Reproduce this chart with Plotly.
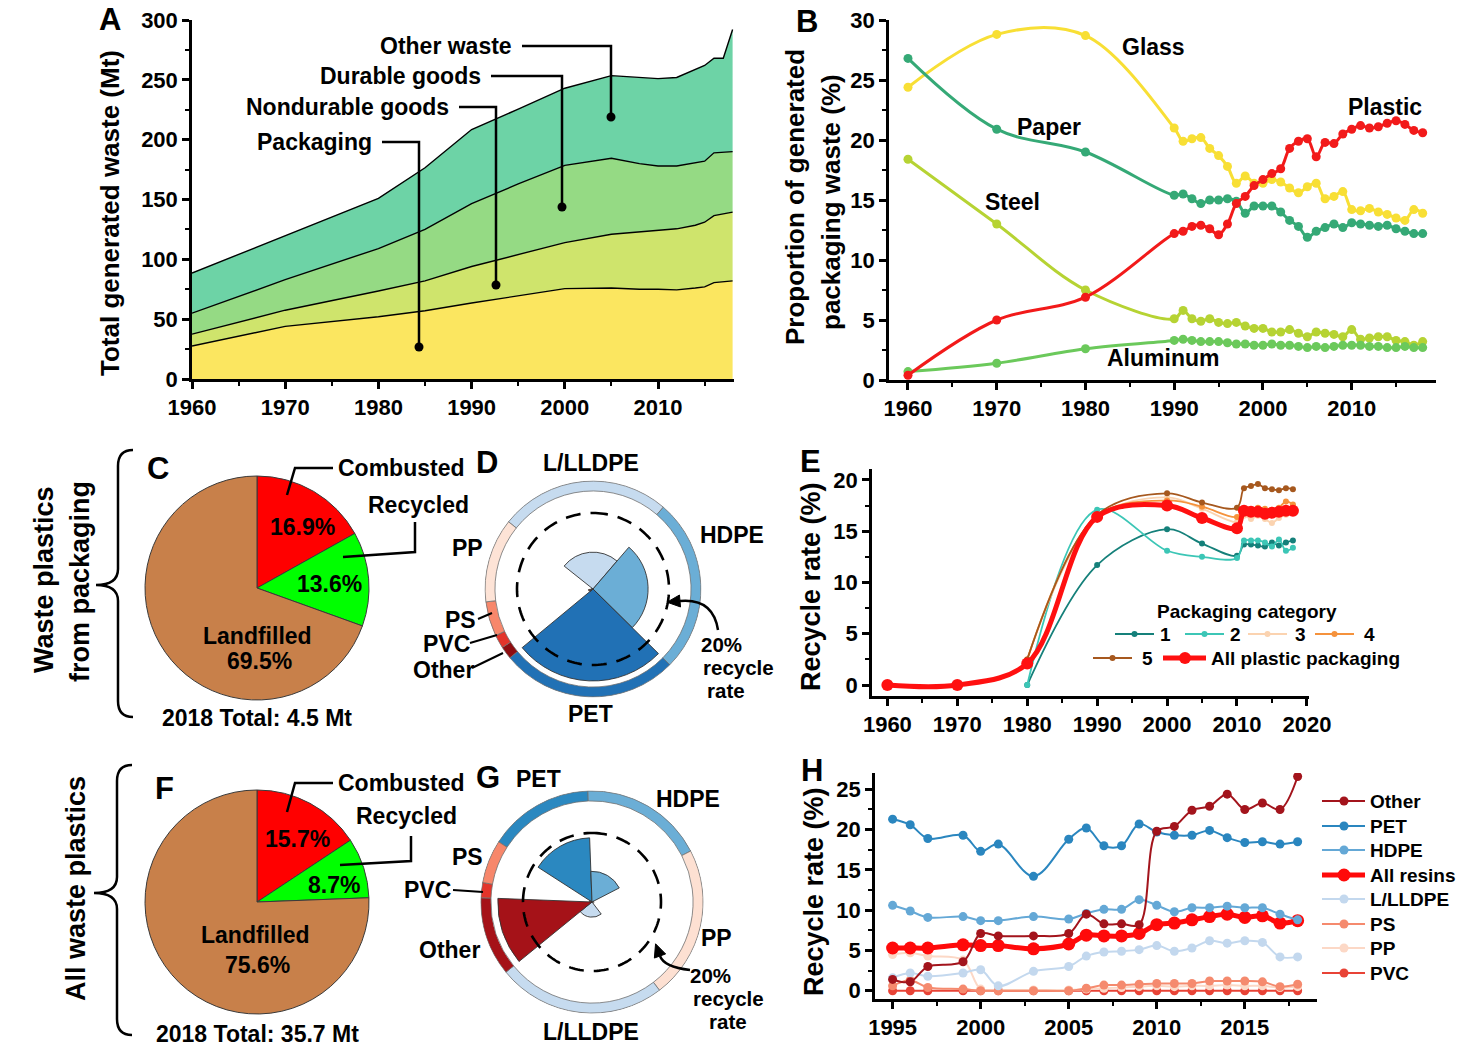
import math
import numpy as np
import plotly.graph_objects as go

W, H = 1466, 1048
FONT = "Liberation Sans, Arial, Helvetica, sans-serif"
LBL = 23   # label font size
TCK = 22   # tick font size

# ======================= DATA =======================
# Panel A - total generated waste (Mt), stacked layers
years_A = [1960, 1970, 1980, 1985, 1990, 1995, 2000, 2005, 2008, 2010, 2012, 2014, 2015, 2016, 2017, 2018]
packaging_A = [27.5, 44.0, 52.0, 57.0, 63.5, 69.5, 75.5, 76.0, 75.0, 75.0, 74.5, 76.0, 77.0, 80.5, 81.0, 82.0]
nondurable_A = [10.0, 13.5, 21.5, 25.0, 30.5, 34.5, 38.5, 45.0, 48.0, 49.5, 51.0, 52.5, 54.0, 56.0, 57.0, 57.5]
durable_A = [17.5, 25.5, 35.5, 43.0, 52.5, 59.0, 64.5, 63.5, 57.0, 53.5, 52.5, 52.0, 51.0, 52.5, 51.5, 50.5]
other_A = [33.5, 37.0, 42.0, 51.5, 62.0, 62.5, 64.5, 69.0, 72.0, 73.0, 74.0, 78.5, 80.0, 79.0, 78.5, 102.0]

# Panel B - proportion of generated packaging waste (%)
years_B = [1960, 1970, 1980, 1990, 1991, 1992, 1993, 1994, 1995, 1996, 1997, 1998, 1999, 2000, 2001,
           2002, 2003, 2004, 2005, 2006, 2007, 2008, 2009, 2010, 2011, 2012, 2013, 2014, 2015, 2016, 2017, 2018]
glass_B = [24.4, 28.8, 28.7, 21.0, 19.9, 20.1, 20.2, 19.3, 18.7, 17.8, 16.4, 17.0, 16.4, 16.4, 16.7,
           16.5, 16.0, 15.6, 16.1, 16.4, 15.1, 15.3, 15.7, 14.2, 14.1, 14.3, 14.0, 13.8, 13.5, 13.3, 14.2, 13.9]
paper_B = [26.8, 20.9, 19.0, 15.4, 15.5, 15.1, 14.7, 15.0, 15.0, 15.1, 14.9, 13.9, 14.5, 14.5, 14.5,
           14.0, 13.3, 12.8, 11.9, 12.4, 12.7, 13.0, 12.7, 13.1, 13.0, 12.9, 12.8, 12.9, 12.6, 12.4, 12.2, 12.2]
steel_B = [18.4, 13.0, 7.5, 5.1, 5.8, 5.1, 4.9, 5.1, 4.8, 4.7, 4.8, 4.5, 4.3, 4.3, 4.0,
           4.0, 4.2, 3.9, 3.6, 4.0, 3.9, 3.8, 3.6, 4.2, 3.4, 3.5, 3.6, 3.6, 3.3, 3.2, 2.9, 3.2]
aluminum_B = [0.7, 1.4, 2.6, 3.3, 3.4, 3.3, 3.2, 3.2, 3.2, 3.1, 3.0, 3.0, 2.9, 2.9, 3.0,
              2.9, 2.9, 2.8, 2.7, 2.8, 2.7, 2.8, 2.9, 2.9, 2.9, 2.8, 2.8, 2.7, 2.7, 2.8, 2.7, 2.7]
plastic_B = [0.4, 5.0, 6.9, 12.2, 12.4, 12.8, 12.9, 12.6, 12.1, 13.0, 14.7, 15.3, 16.2, 16.7, 17.2,
             17.6, 19.3, 19.9, 20.1, 18.6, 19.8, 19.7, 20.5, 20.9, 21.2, 21.0, 21.1, 21.4, 21.6, 21.3, 20.8, 20.6]

# Panels C / F - fate of waste plastics in 2018 (%)
fate_labels = ["Combusted", "Recycled", "Landfilled"]
fate_C = [16.9, 13.6, 69.5]
fate_F = [15.7, 8.7, 75.6]

# Panel D - packaging resins: share of generated waste (%) and recycle rate (%)
resins_D = ["L/LLDPE", "HDPE", "PET", "Other", "PVC", "PS", "PP"]
share_D = [25.6, 26.1, 26.6, 1.9, 2.0, 5.2, 12.6]
rate_D = [9.7, 14.5, 24.2, 1.0, 0.3, 1.2, 0.4]

# Panel G - all resins: share of generated waste (%) and recycle rate (%)
resins_G = ["PET", "HDPE", "PP", "L/LLDPE", "Other", "PVC", "PS"]
share_G = [15.3, 18.0, 22.2, 24.5, 11.5, 2.2, 6.3]
rate_G = [18.6, 8.9, 0.5, 4.4, 27.3, 0.1, 0.8]

# Panel E - recycle rate (%) by packaging category
years_E_all = [1960, 1970, 1980, 1990, 2000, 2005, 2010, 2011, 2012, 2013, 2014, 2015, 2016, 2017, 2018]
all_E = [0.0, 0.0, 2.1, 16.4, 17.5, 16.3, 15.3, 17.0, 16.9, 16.9, 16.7, 16.8, 16.9, 17.0, 17.0]
years_E_cat = [1980, 1990, 2000, 2005, 2010, 2011, 2012, 2013, 2014, 2015, 2016, 2017, 2018]
cat1_E = [0.0, 11.7, 15.2, 13.8, 12.6, 13.7, 13.7, 13.6, 13.5, 13.9, 13.6, 13.9, 14.1]
cat2_E = [0.0, 17.1, 13.1, 12.5, 12.4, 14.1, 14.1, 14.1, 13.9, 13.5, 14.2, 13.1, 13.4]
cat3_E = [2.5, 16.3, 18.3, 17.2, 15.9, 16.5, 16.2, 16.5, 16.2, 15.8, 16.3, 16.6, 16.8]
cat4_E = [2.5, 16.5, 18.0, 17.4, 16.4, 17.2, 17.1, 17.3, 17.2, 17.1, 17.3, 17.9, 17.6]
cat5_E = [2.5, 16.6, 18.7, 17.8, 17.3, 19.2, 19.4, 19.6, 19.2, 19.1, 19.0, 19.2, 19.1]

# Panel H - recycle rate (%) by resin
years_H = [1995, 1996, 1997, 1999, 2000, 2001, 2003, 2005, 2006, 2007, 2008, 2009, 2010, 2011,
           2012, 2013, 2014, 2015, 2016, 2017, 2018]
other_H = [1.4, 1.1, 3.0, 3.6, 7.1, 6.8, 6.8, 7.1, 9.5, 8.3, 8.3, 8.2, 19.8, 20.4, 22.4, 22.9, 24.4, 22.5, 23.3, 22.5, 26.6]
pet_H = [21.3, 20.6, 18.9, 19.3, 17.3, 18.2, 14.2, 18.8, 20.2, 18.0, 18.0, 20.7, 19.7, 19.3, 19.3, 19.9, 19.0, 18.4, 18.5, 18.2, 18.5]
hdpe_H = [10.6, 9.9, 9.1, 9.2, 8.7, 8.7, 9.2, 8.9, 9.6, 10.1, 10.1, 11.3, 10.6, 9.8, 10.3, 10.3, 10.5, 10.3, 10.3, 9.5, 8.8]
allres_H = [5.3, 5.3, 5.3, 5.7, 5.6, 5.6, 5.2, 5.8, 6.9, 6.8, 6.8, 7.1, 8.2, 8.4, 8.8, 9.2, 9.5, 9.1, 9.3, 8.4, 8.7]
lldpe_H = [1.6, 2.2, 1.8, 2.2, 2.6, 0.6, 2.4, 3.0, 4.3, 4.8, 4.9, 5.1, 5.6, 4.9, 5.3, 6.2, 5.9, 6.2, 6.0, 4.2, 4.2]
ps_H = [0.6, 1.3, 0.4, 0.2, 0.0, 0.0, 0.0, 0.0, 0.3, 0.7, 0.7, 0.8, 0.9, 0.9, 0.9, 1.2, 1.2, 1.2, 1.1, 0.5, 0.8]
pp_H = [4.5, 4.7, 4.3, 3.8, 0.2, 0.1, 0.1, 0.1, 0.2, 0.3, 0.4, 0.5, 0.6, 0.5, 0.6, 0.6, 0.7, 0.6, 0.6, 0.4, 0.5]
pvc_H = [0.0, 0.0, 0.0, 0.0, 0.0, 0.0, 0.0, 0.0, 0.0, 0.0, 0.0, 0.0, 0.0, 0.0, 0.0, 0.0, 0.0, 0.0, 0.0, 0.0, 0.0]

RECYCLE_REF = 20  # dashed reference circle (%)

# ======================= HELPERS =======================
def px(x):
    return x / W


def py(y):
    return 1 - y / H


def bfont(size, color="black"):
    return dict(family=FONT, size=size, color=color, weight="bold")


annotations = []
shapes = []


def txt(x, y, s, size=LBL, xanchor="center", angle=0, color="black"):
    annotations.append(dict(x=px(x), y=py(y), xref="paper", yref="paper", text=s, showarrow=False,
                            xanchor=xanchor, yanchor="middle", textangle=angle, font=bfont(size, color),
                            borderpad=0))


def poly(pts, width=2.5, color="black"):
    path = "M " + " L ".join(f"{px(a):.5f},{py(b):.5f}" for a, b in pts)
    shapes.append(dict(type="path", path=path, xref="paper", yref="paper",
                       line=dict(color=color, width=width)))


def dot(x, y, r=4.5, color="black"):
    shapes.append(dict(type="circle", xref="paper", yref="paper", x0=px(x - r), x1=px(x + r),
                       y0=py(y + r), y1=py(y - r), fillcolor=color, line=dict(width=0)))


def curve(p0, c, p1, width=2.5):
    path = (f"M {px(p0[0]):.5f},{py(p0[1]):.5f} Q {px(c[0]):.5f},{py(c[1]):.5f} "
            f"{px(p1[0]):.5f},{py(p1[1]):.5f}")
    shapes.append(dict(type="path", path=path, xref="paper", yref="paper",
                       line=dict(color="black", width=width)))
    dx, dy = p1[0] - c[0], p1[1] - c[1]
    n = math.hypot(dx, dy)
    ux, uy = dx / n, dy / n
    L, Wd = 13, 12
    tip = (p1[0] + ux * L, p1[1] + uy * L)
    b1 = (p1[0] - uy * Wd / 2, p1[1] + ux * Wd / 2)
    b2 = (p1[0] + uy * Wd / 2, p1[1] - ux * Wd / 2)
    path = "M " + " L ".join(f"{px(a):.5f},{py(b):.5f}" for a, b in [tip, b1, b2]) + " Z"
    shapes.append(dict(type="path", path=path, xref="paper", yref="paper",
                       fillcolor="black", line=dict(color="black", width=1)))


def brace(x_end, x_mid, x_tip, y_top, y_tip, y_bot, width=2.5):
    r = 16
    pts = [
        f"M {px(x_end):.5f},{py(y_top):.5f}",
        f"Q {px(x_mid):.5f},{py(y_top):.5f} {px(x_mid):.5f},{py(y_top + r):.5f}",
        f"L {px(x_mid):.5f},{py(y_tip - r):.5f}",
        f"Q {px(x_mid):.5f},{py(y_tip):.5f} {px(x_tip):.5f},{py(y_tip):.5f}",
        f"Q {px(x_mid):.5f},{py(y_tip):.5f} {px(x_mid):.5f},{py(y_tip + r):.5f}",
        f"L {px(x_mid):.5f},{py(y_bot - r):.5f}",
        f"Q {px(x_mid):.5f},{py(y_bot):.5f} {px(x_end):.5f},{py(y_bot):.5f}",
    ]
    shapes.append(dict(type="path", path=" ".join(pts), xref="paper", yref="paper",
                       line=dict(color="black", width=width)))


fig = go.Figure()

# ======================= PANEL A =======================
colors_A = ["#FBE660", "#CFE46C", "#95DA84", "#6DD3A6"]
for name, vals, col in [("Packaging", packaging_A, colors_A[0]), ("Nondurable goods", nondurable_A, colors_A[1]),
                        ("Durable goods", durable_A, colors_A[2]), ("Other waste", other_A, colors_A[3])]:
    fig.add_trace(go.Scatter(x=years_A, y=vals, name=name, stackgroup="A", mode="lines",
                             line=dict(color="black", width=1.4), fillcolor=col,
                             xaxis="x", yaxis="y", hoverinfo="skip"))

# ======================= PANEL B =======================
series_B = [("Glass", glass_B, "#F8DF35"), ("Paper", paper_B, "#35A976"), ("Steel", steel_B, "#B6D333"),
            ("Aluminum", aluminum_B, "#6BC95B"), ("Plastic", plastic_B, "#F21A1A")]
for name, vals, col in series_B:
    fig.add_trace(go.Scatter(x=years_B, y=vals, name=name, mode="lines+markers",
                             line=dict(color=col, width=3, shape="spline", smoothing=1.0),
                             marker=dict(color=col, size=9), xaxis="x2", yaxis="y2", hoverinfo="skip"))

# ======================= PANEL E =======================
cols_E = ["#15807A", "#3CC6B6", "#FBD3B0", "#F5923C", "#A6581E"]
for vals, col in zip([cat1_E, cat2_E, cat3_E, cat4_E, cat5_E], cols_E):
    fig.add_trace(go.Scatter(x=years_E_cat, y=vals, mode="lines+markers",
                             line=dict(color=col, width=1.8, shape="spline", smoothing=1.0),
                             marker=dict(color=col, size=6), xaxis="x3", yaxis="y3", hoverinfo="skip"))
fig.add_trace(go.Scatter(x=years_E_all, y=all_E, mode="lines+markers", name="All plastic packaging",
                         line=dict(color="#FF1010", width=5, shape="spline", smoothing=1.0),
                         marker=dict(color="#FF1010", size=12), xaxis="x3", yaxis="y3", hoverinfo="skip"))

# ======================= PANEL H =======================
cols_H = {"Other": "#A3141C", "PET": "#2A86BF", "HDPE": "#64A8D6", "All resins": "#FF0A0A",
          "L/LLDPE": "#C3D8EE", "PS": "#F58A6E", "PP": "#FCD8C6", "PVC": "#E84336"}
order_H = [("PVC", pvc_H), ("PP", pp_H), ("PS", ps_H), ("All resins", allres_H), ("L/LLDPE", lldpe_H),
           ("HDPE", hdpe_H), ("PET", pet_H), ("Other", other_H)]
for name, vals in order_H:
    thick = name == "All resins"
    fig.add_trace(go.Scatter(x=years_H, y=vals, mode="lines+markers", name=name,
                             line=dict(color=cols_H[name], width=5 if thick else 2, shape="spline", smoothing=1.0),
                             marker=dict(color=cols_H[name], size=13 if thick else 9),
                             xaxis="x4", yaxis="y4", hoverinfo="skip"))

# ======================= PIES C & F =======================
pie_colors = ["#FF0000", "#00FF00", "#C8804A"]
for vals, (x0, x1, y0, y1) in [(fate_C, (145, 369, 476, 700)), (fate_F, (145, 369, 790, 1014))]:
    fig.add_trace(go.Pie(values=vals, labels=fate_labels, sort=False, direction="clockwise", rotation=0,
                         marker=dict(colors=pie_colors, line=dict(color="#3a3a3a", width=1)),
                         domain=dict(x=[px(x0), px(x1)], y=[py(y1), py(y0)]),
                         textinfo="none", hoverinfo="skip", showlegend=False, automargin=False))

# ======================= POLAR D & G =======================
def polar_traces(shares, rates, colors, start, ring_base, ring_top, subplot):
    ang = np.array(shares) * 3.6
    starts = start + np.cumsum(ang) - ang
    centers = (starts + ang / 2) % 360
    thick = ring_top - ring_base
    fig.add_trace(go.Barpolar(r=[thick] * len(ang), base=ring_base, theta=centers, width=ang,
                              marker=dict(color=colors, line=dict(color="#707070", width=0.8)),
                              subplot=subplot, hoverinfo="skip", showlegend=False))
    fig.add_trace(go.Barpolar(r=rates, theta=centers, width=ang,
                              marker=dict(color=colors, line=dict(color="#333333", width=0.9)),
                              subplot=subplot, hoverinfo="skip", showlegend=False))
    th = np.arange(0, 361, 2)
    fig.add_trace(go.Scatterpolar(r=np.full(th.shape, RECYCLE_REF), theta=th, mode="lines",
                                  line=dict(color="black", width=2.6, dash="15px,10px"),
                                  subplot=subplot, hoverinfo="skip", showlegend=False))


colors_D = ["#C6DBEF", "#6BAED6", "#2171B5", "#8E0C10", "#E3342A", "#F7876B", "#FDE3D6"]
colors_G = ["#2B88C0", "#6BAED6", "#FDE0D2", "#C6DBEF", "#A51218", "#E3342A", "#F7876B"]
polar_traces(share_D, rate_D, colors_D, 308.5, 25.8, 28.4, "polar")
polar_traces(share_G, rate_G, colors_G, 302.8, 29.3, 32.2, "polar2")

# polar geometry (pixel centers / scales)
D_c, D_scale, D_max = (593, 589), 3.8, 28.6
G_c, G_scale, G_max = (592, 902), 3.45, 32.4
rD = D_scale * D_max
rG = G_scale * G_max

# ======================= AXES =======================
def axis(domain, rng, dtick, minor_dtick, anchor, tick0=0):
    return dict(domain=domain, range=rng, dtick=dtick, tick0=tick0, anchor=anchor,
                showline=True, linewidth=2.5, linecolor="black", ticks="outside", ticklen=7,
                tickwidth=2.5, tickcolor="black", showgrid=False, zeroline=False, mirror=False,
                tickfont=bfont(TCK), fixedrange=True, automargin=False,
                minor=dict(dtick=minor_dtick, ticks="outside", ticklen=4, tickwidth=2, tickcolor="black",
                           showgrid=False))


layout = dict(
    width=W, height=H, autosize=False, margin=dict(l=0, r=0, t=0, b=0, pad=0, autoexpand=False),
    paper_bgcolor="white", plot_bgcolor="white", showlegend=False,
    font=dict(family=FONT, color="black"),
    xaxis=axis([px(192), px(734)], [1960, 2018.15], 10, 5, "y", tick0=1960),
    yaxis=axis([py(379), py(20)], [0, 300], 50, 25, "x"),
    xaxis2=axis([px(889), px(1436)], [1957.86, 2019.5], 10, 5, "y2", tick0=1960),
    yaxis2=axis([py(380), py(20)], [0, 30], 5, 2.5, "x2"),
    xaxis3=axis([px(872), px(1309)], [1957.8, 2020.3], 10, 5, "y3", tick0=1960),
    yaxis3=axis([py(696), py(469)], [-1.07, 21.07], 5, 2.5, "x3"),
    xaxis4=axis([px(875), px(1317)], [1994.0, 2019.1], 5, 2.5, "y4", tick0=1995),
    yaxis4=axis([py(999), py(773)], [-1.03, 27.03], 5, 2.5, "x4"),
    polar=dict(domain=dict(x=[px(D_c[0] - rD), px(D_c[0] + rD)], y=[py(D_c[1] + rD), py(D_c[1] - rD)]),
               radialaxis=dict(visible=False, range=[0, D_max]),
               angularaxis=dict(visible=False, rotation=90, direction="clockwise"),
               bgcolor="rgba(0,0,0,0)", hole=0),
    polar2=dict(domain=dict(x=[px(G_c[0] - rG), px(G_c[0] + rG)], y=[py(G_c[1] + rG), py(G_c[1] - rG)]),
                radialaxis=dict(visible=False, range=[0, G_max]),
                angularaxis=dict(visible=False, rotation=90, direction="clockwise"),
                bgcolor="rgba(0,0,0,0)", hole=0),
)

# ======================= TEXT & DECORATION =======================
# Panel A
txt(110, 20, "A", 31)
txt(110, 213, "Total generated waste (Mt)", 26, angle=-90)
for label, xr, yt, xc, ydot in [("Other waste", 513, 46, 611, 117), ("Durable goods", 482, 76, 562, 207),
                                ("Nondurable goods", 450, 107, 496, 285), ("Packaging", 373, 142, 419, 347)]:
    txt(xr, yt, label, xanchor="right")
    poly([(xr + 9, yt), (xc, yt), (xc, ydot)])
    dot(xc, ydot)

# Panel B
txt(807, 22, "B", 31)
txt(795, 197, "Proportion of generated", 26, angle=-90)
txt(831, 202, "packaging waste (%)", 26, angle=-90)
for label, x, y in [("Glass", 1153, 47), ("Paper", 1049, 127), ("Steel", 1012, 202),
                    ("Aluminum", 1163, 358), ("Plastic", 1385, 107)]:
    txt(x, y, label)

# Panel C
txt(158, 468, "C", 31)
brace(133, 118, 96, 450, 585, 717)
txt(44, 580, "Waste plastics", 27, angle=-90)
txt(80, 582, "from packaging", 27, angle=-90)
txt(337, 468, "Combusted", xanchor="left")
txt(367, 505, "Recycled", xanchor="left")
poly([(287, 495), (295, 468), (333, 468)])
poly([(343, 557), (415, 552), (415, 522)])
txt(302, 527, "16.9%")
txt(329, 584, "13.6%")
txt(257, 636, "Landfilled")
txt(259, 661, "69.5%")
txt(257, 718, "2018 Total: 4.5 Mt")

# Panel D
txt(487, 463, "D", 31)
for label, x, y in [("L/LLDPE", 591, 463), ("HDPE", 732, 535), ("PP", 467, 548), ("PS", 460, 620),
                    ("PVC", 446, 644), ("Other", 444, 670), ("PET", 590, 714)]:
    txt(x, y, label)
poly([(478, 619), (492, 613)], 2)
poly([(470, 643), (497, 635)], 2)
poly([(472, 668), (503, 653)], 2)
txt(721, 644, "20%", 20.5)
txt(738, 667, "recycle", 20.5)
txt(726, 690, "rate", 20.5)
curve((718, 630), (713, 598), (680, 601))

# Panel E
txt(810, 461, "E", 31)
txt(811, 587, "Recycle rate (%)", 27, angle=-90)
txt(1247, 611, "Packaging category", 19)
for (x0, x1, y, col, lbl, lx) in [(1115, 1154, 634, cols_E[0], "1", 1165), (1185, 1224, 634, cols_E[1], "2", 1235),
                                  (1248, 1287, 634, cols_E[2], "3", 1300), (1315, 1354, 634, cols_E[3], "4", 1369),
                                  (1093, 1132, 658, cols_E[4], "5", 1147)]:
    poly([(x0, y), (x1, y)], 1.8, col)
    dot((x0 + x1) / 2, y, 3, col)
    txt(lx, y, lbl, 19)
poly([(1163, 658), (1206, 658)], 5, "#FF1010")
dot(1185, 658, 6, "#FF1010")
txt(1210, 658, "All plastic packaging", 19, xanchor="left")

# Panel F
txt(164, 788, "F", 31)
brace(132, 117, 94, 765, 893, 1035)
txt(76, 889, "All waste plastics", 27, angle=-90)
txt(337, 783, "Combusted", xanchor="left")
txt(355, 816, "Recycled", xanchor="left")
poly([(287, 812), (295, 783), (333, 783)])
poly([(340, 865), (411, 861), (411, 836)])
txt(297, 839, "15.7%")
txt(334, 885, "8.7%")
txt(255, 935, "Landfilled")
txt(257, 965, "75.6%")
txt(257, 1034, "2018 Total: 35.7 Mt")

# Panel G
txt(488, 777, "G", 31)
for label, x, y in [("PET", 538, 779), ("HDPE", 688, 799), ("PS", 467, 857), ("PVC", 427, 890),
                    ("Other", 450, 950), ("PP", 716, 938), ("L/LLDPE", 591, 1032)]:
    txt(x, y, label)
poly([(453, 890), (483, 892)], 2)
txt(710, 975, "20%", 20.5)
txt(728, 998, "recycle", 20.5)
txt(728, 1021, "rate", 20.5)
curve((690, 970), (664, 967), (660, 956))

# Panel H
txt(812, 770, "H", 31)
txt(814, 892, "Recycle rate (%)", 27, angle=-90)
legend_H = ["Other", "PET", "HDPE", "All resins", "L/LLDPE", "PS", "PP", "PVC"]
legend_H_y = [801, 826, 850, 875, 899, 924, 948, 973]
for name, y in zip(legend_H, legend_H_y):
    thick = name == "All resins"
    poly([(1322, y), (1365, y)], 5 if thick else 2, cols_H[name])
    dot(1344, y, 6.5 if thick else 4.5, cols_H[name])
    txt(1369, y, name, 19, xanchor="left")

layout["annotations"] = annotations
layout["shapes"] = shapes
fig.update_layout(**layout)

fig.write_html("out.html", config={"displayModeBar": False, "responsive": False},
               post_script="document.body.style.margin='0px';document.body.style.overflow='hidden';")
